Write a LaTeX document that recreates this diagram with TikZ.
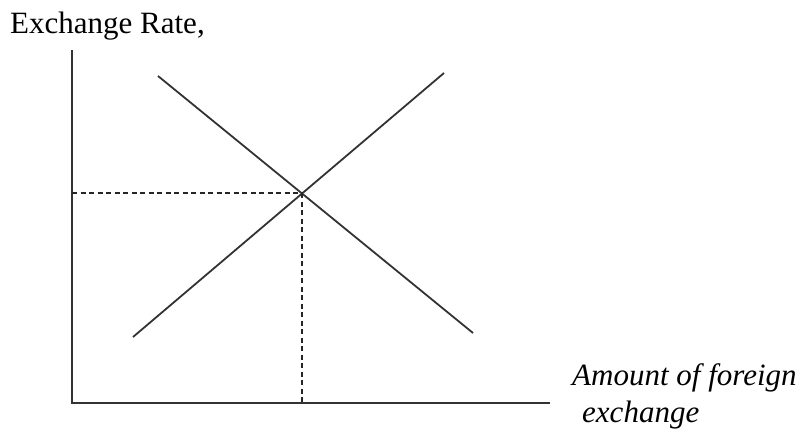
\documentclass[tikz,border=0pt]{standalone}
\usepackage{fontspec}
\setmainfont{Liberation Serif}
\usetikzlibrary{positioning}

\begin{document}
\begin{tikzpicture}[x=1pt, y=-1pt,
  axis/.style={line width=1.8pt, black!80},
  curve/.style={line width=1.8pt, black!80},
  guide/.style={line width=1.5pt, black!85, dash pattern=on 5pt off 3.5pt},
  lbl/.style={font=\fontsize{31}{37}\selectfont, inner sep=0pt},
]
\useasboundingbox (0,0) rectangle (810,437);

% ---- Axes ----
\coordinate (origin) at (72,403);
\coordinate (ytop) at (72,50);
\coordinate (xend) at (550,403);
\draw[axis] (ytop) -- (origin) -- (xend);

\node[lbl, anchor=base west] (ylabel) at (10,33) {Exchange Rate,};
\node[lbl, anchor=base west, align=left, font=\fontsize{31}{37}\selectfont\itshape]
  (xlabel) at (572,422) {Amount of foreign\\\hspace{10pt}exchange};

% ---- Demand and supply ----
\coordinate (dtop) at (158,76);
\coordinate (dbot) at (473,333);
\coordinate (sbot) at (133,337);
\coordinate (stop) at (444,73);
\draw[curve] (dtop) -- (dbot);
\draw[curve] (sbot) -- (stop);

% ---- Equilibrium ----
\coordinate (eq) at (302,193);
\coordinate (eqy) at (72,193);
\coordinate (eqx) at (302,403);
\draw[guide] (eqy) -- (eq);
\draw[guide] (eq) -- (eqx);

\end{tikzpicture}
\end{document}
